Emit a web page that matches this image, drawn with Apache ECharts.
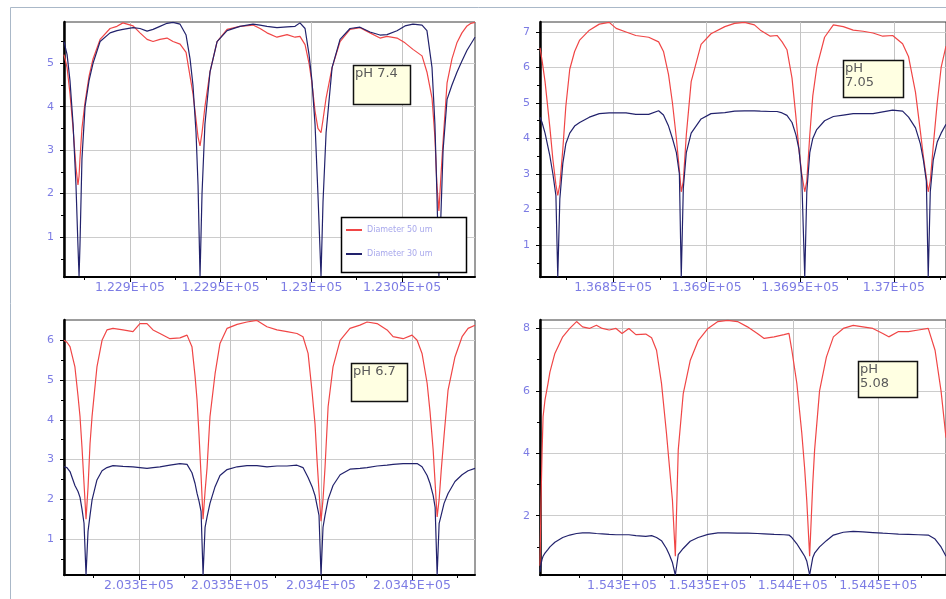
<!DOCTYPE html>
<html><head><meta charset="utf-8">
<script src="https://cdn.jsdelivr.net/npm/echarts@6/dist/echarts.min.js"></script>
<style>html,body{margin:0;padding:0;background:#fff}#c{width:946px;height:599px}</style>
</head><body><div id="c"></div>
<script>
// ---------- Panel 1 (pH 7.4) ----------
const x1 = [122863.6,122865.3,122866.9,122868.6,122870.2,122871.3,122871.9,122872.4,122873.5,122875.2,122877.4,122879.6,122883.5,122889.0,122892.8,122896.1,122901.7,122905.5,122909.4,122912.7,122916.5,122920.4,122923.7,122927.6,122930.9,122933.1,122934.7,122936.4,122937.5,122938.6,122939.7,122941.3,122944.1,122948.0,122953.5,122960.6,122967.8,122971.7,122975.5,122981.0,122986.6,122991.0,122993.7,122996.5,122998.7,123000.3,123002.0,123003.6,123005.3,123006.4,123008.1,123011.4,123015.8,123021.3,123026.8,123032.3,123037.8,123041.7,123047.2,123051.6,123056.0,123061.0,123063.7,123066.5,123068.1,123069.2,123070.3,123071.4,123072.6,123074.8,123077.5,123080.3,123083.0,123085.8,123088.0,123090.2];
const red1 = [5.2,4.9,4.3,3.5,2.6,2.2,2.4,2.8,3.5,4.1,4.7,5.1,5.55,5.8,5.85,5.93,5.86,5.7,5.55,5.5,5.55,5.58,5.5,5.44,5.25,4.7,4.3,3.7,3.3,3.1,3.4,4.0,4.8,5.5,5.78,5.85,5.88,5.8,5.7,5.6,5.66,5.6,5.62,5.43,5.0,4.55,3.9,3.5,3.4,3.7,4.2,4.9,5.5,5.78,5.82,5.7,5.58,5.62,5.58,5.47,5.32,5.17,4.8,4.2,3.3,2.2,1.6,2.4,3.2,4.55,5.1,5.48,5.7,5.86,5.92,5.94];
const blue1 = [5.5,5.2,4.6,3.6,2.2,0.8,0.1,0.8,2.8,4.0,4.6,5.0,5.5,5.7,5.75,5.78,5.82,5.8,5.74,5.78,5.85,5.92,5.94,5.9,5.65,5.1,4.5,3.4,2.2,0.1,2.0,3.6,4.8,5.5,5.75,5.85,5.9,5.88,5.85,5.82,5.84,5.85,5.93,5.8,5.2,4.6,3.6,2.0,0.1,1.8,3.4,4.9,5.55,5.8,5.83,5.72,5.65,5.66,5.75,5.86,5.9,5.88,5.75,4.9,3.6,2.0,0.1,1.5,3.0,4.17,4.5,4.8,5.05,5.3,5.45,5.6];
const xTicks1 = [122900,122950,123000,123050];
const xLabels1 = ['1.229E+05','1.2295E+05','1.23E+05','1.2305E+05'];
const xMinor1 = [122875,122925,122975,123025,123075];
const yTicks1 = [1,2,3,4,5];
const yMinor1 = [0.5,1.5,2.5,3.5,4.5,5.5];

// ---------- Panel 2 (pH 7.05) ----------
const x2 = [136810.9,136812.0,136813.6,136816.2,136817.8,136819.4,136820.4,136821.5,136823.1,136824.7,136826.8,136829.4,136832.1,136837.3,136842.6,136847.9,136851.6,136856.9,136862.1,136869.0,136874.3,136876.9,136879.6,136881.7,136883.8,136885.4,136886.4,136887.5,136889.1,136891.7,136897.0,136902.3,136909.7,136914.9,136920.2,136925.5,136928.7,136934.0,136937.6,136940.3,136942.9,136945.6,136947.7,136949.3,136950.8,136952.4,136953.5,136955.1,136956.7,136958.8,136963.0,136967.7,136973.0,136978.3,136983.6,136988.9,136994.1,136999.4,137004.7,137007.9,137011.6,137014.2,137015.8,137017.4,137018.4,137019.5,137021.1,137023.2,137025.3,137027.9];
const red2 = [6.55,6.2,5.6,4.3,3.4,2.7,2.4,2.7,3.7,4.9,5.95,6.45,6.77,7.05,7.22,7.27,7.1,7.0,6.9,6.85,6.72,6.45,5.8,5.0,4.0,3.1,2.5,2.8,4.1,5.6,6.65,6.95,7.15,7.24,7.27,7.2,7.05,6.88,6.9,6.72,6.5,5.7,4.6,3.7,3.0,2.5,2.8,4.1,5.2,6.0,6.85,7.2,7.15,7.05,7.02,6.97,6.88,6.9,6.67,6.3,5.3,4.2,3.5,2.9,2.5,2.8,3.8,5.0,6.0,6.6];
const blue2 = [4.6,4.45,4.15,3.5,3.0,2.4,0.1,2.3,3.3,3.85,4.15,4.35,4.45,4.6,4.7,4.72,4.72,4.72,4.68,4.68,4.78,4.66,4.35,4.0,3.6,3.0,0.1,2.6,3.6,4.15,4.55,4.7,4.73,4.77,4.78,4.78,4.77,4.76,4.76,4.72,4.65,4.45,4.1,3.7,2.9,0.1,2.5,3.6,4.0,4.25,4.5,4.62,4.66,4.7,4.7,4.7,4.75,4.8,4.77,4.6,4.3,3.85,3.4,2.8,0.1,2.5,3.4,3.9,4.15,4.4];
const xTicks2 = [136850,136900,136950,137000];
const xLabels2 = ['1.3685E+05','1.369E+05','1.3695E+05','1.37E+05'];
const xMinor2 = [136825,136875,136925,136975,137025];
const yTicks2 = [1,2,3,4,5,6,7];
const yMinor2 = [0.5,1.5,2.5,3.5,4.5,5.5,6.5];

// ---------- Panel 3 (pH 6.7) ----------
const x3 = [203258.8,203260.4,203262.1,203264.8,203266.5,203267.6,203268.7,203269.8,203270.9,203272.0,203273.1,203274.2,203276.9,203279.7,203282.4,203285.7,203291.2,203296.7,203300.5,203304.4,203307.7,203311.5,203317.0,203322.5,203326.4,203329.1,203330.8,203331.9,203333.0,203334.1,203335.2,203336.3,203337.4,203339.0,203341.8,203344.5,203348.4,203353.9,203359.3,203364.8,203370.3,203375.8,203381.3,203386.8,203390.1,203392.9,203395.1,203396.7,203397.8,203398.9,203400.0,203401.1,203402.2,203403.9,203406.6,203410.5,203415.9,203421.4,203425.3,203430.8,203436.3,203439.6,203445.1,203450.0,203452.8,203455.5,203458.3,203459.9,203461.6,203462.7,203463.8,203464.9,203466.0,203467.6,203469.8,203473.6,203477.5,203480.8,203484.6];
const red3 = [6.0,5.95,5.84,5.33,4.6,4.08,3.3,2.4,1.5,2.3,3.4,4.08,5.33,6.0,6.26,6.3,6.26,6.22,6.42,6.42,6.26,6.17,6.04,6.06,6.13,5.84,5.1,4.5,3.6,2.6,1.5,2.2,2.8,4.08,5.16,5.92,6.3,6.4,6.46,6.5,6.34,6.26,6.22,6.17,6.09,5.67,4.7,3.9,3.0,2.2,1.45,2.0,2.8,4.33,5.33,6.0,6.3,6.38,6.46,6.42,6.26,6.09,6.04,6.13,6.0,5.67,4.92,4.2,3.25,2.4,1.56,2.0,2.7,3.6,4.75,5.58,6.09,6.3,6.38];
const blue3 = [2.82,2.8,2.7,2.35,2.2,2.05,1.75,1.4,0.1,1.2,1.6,1.98,2.49,2.72,2.8,2.85,2.83,2.82,2.8,2.78,2.8,2.82,2.86,2.9,2.88,2.67,2.4,2.15,1.95,1.7,0.1,1.3,1.56,1.9,2.32,2.6,2.75,2.82,2.85,2.85,2.82,2.84,2.84,2.86,2.8,2.55,2.32,2.1,1.85,1.6,0.1,1.3,1.6,2.0,2.35,2.62,2.76,2.78,2.8,2.84,2.86,2.88,2.9,2.9,2.9,2.82,2.6,2.4,2.1,1.8,0.1,1.4,1.6,1.9,2.15,2.45,2.62,2.72,2.78];
const xTicks3 = [203300,203350,203400,203450];
const xLabels3 = ['2.033E+05','2.0335E+05','2.034E+05','2.0345E+05'];
const xMinor3 = [203275,203325,203375,203425,203475];
const yTicks3 = [1,2,3,4,5,6];
const yMinor3 = [0.5,1.5,2.5,3.5,4.5,5.5];

// ---------- Panel 4 (pH 5.08) ----------
const x4 = [154252.0,154252.6,154253.2,154253.8,154254.9,154256.7,154257.8,154260.7,154265.3,154269.4,154273.4,154276.9,154280.9,154285.0,154288.4,154292.5,154296.5,154300.0,154304.0,154308.1,154313.9,154317.3,154320.2,154323.1,154326.0,154327.7,154329.5,154331.2,154332.9,154335.8,154339.9,154344.5,154350.3,154356.1,154361.8,154367.6,154373.4,154379.2,154383.2,154389.0,154394.8,154397.7,154399.4,154402.3,154405.2,154406.9,154408.1,154409.8,154411.6,154412.7,154415.6,154419.6,154423.7,154429.5,154435.3,154441.0,154446.8,154452.6,154456.1,154461.8,154467.6,154473.4,154479.2,154483.2,154486.7,154489.6];
const red4 = [0.4,2.5,4.0,5.17,5.7,6.24,6.6,7.2,7.73,8.0,8.22,8.05,8.0,8.1,8.0,7.95,8.0,7.84,8.0,7.8,7.82,7.7,7.3,6.24,4.65,3.6,2.5,0.7,4.1,5.9,6.97,7.6,8.0,8.22,8.26,8.22,8.05,7.84,7.68,7.73,7.8,7.84,7.3,6.24,4.65,3.5,2.5,0.7,3.0,4.1,6.0,7.08,7.73,8.0,8.1,8.05,8.0,7.84,7.73,7.9,7.9,7.95,8.0,7.3,6.0,4.5];
const blue4 = [0.2,0.45,0.6,0.7,0.8,0.92,1.0,1.15,1.3,1.38,1.43,1.45,1.45,1.43,1.42,1.4,1.39,1.39,1.39,1.36,1.34,1.36,1.3,1.2,0.95,0.75,0.5,0.1,0.75,0.95,1.18,1.3,1.4,1.45,1.45,1.44,1.44,1.43,1.42,1.4,1.39,1.38,1.3,1.1,0.85,0.7,0.55,0.1,0.65,0.8,1.0,1.2,1.38,1.47,1.5,1.48,1.46,1.44,1.43,1.41,1.4,1.39,1.38,1.25,1.0,0.7];
const xTicks4 = [154300,154350,154400,154450];
const xLabels4 = ['1.543E+05','1.5435E+05','1.544E+05','1.5445E+05'];
const xMinor4 = [154275,154325,154375,154425,154475];
const yTicks4 = [2,4,6,8];
const yMinor4 = [1,3,5,7];

const seriesNames = ['Diameter 50 um', 'Diameter 30 um'];
const phTexts = ['pH 7.4', 'pH\n7.05', 'pH 6.7', 'pH\n5.08'];

const RED = '#f04646', BLUE = '#22226c';
const LABEL_COLOR = '#7c7ce4';

const panels = [
  {x:x1, red:red1, blue:blue1, xt:xTicks1, xl:xLabels1, xm:xMinor1, yt:yTicks1, ym:yMinor1,
   grid:{left:64, top:22, width:411, height:255}, xr:[122863.6,123090.2], yr:[0.08,5.95],
   box:{x:353, y:65, w:57, h:39}},
  {x:x2, red:red2, blue:blue2, xt:xTicks2, xl:xLabels2, xm:xMinor2, yt:yTicks2, ym:yMinor2,
   grid:{left:540, top:22, width:411, height:255}, xr:[136810.9,137027.9], yr:[0.1,7.28],
   box:{x:843, y:60, w:60, h:37}},
  {x:x3, red:red3, blue:blue3, xt:xTicks3, xl:xLabels3, xm:xMinor3, yt:yTicks3, ym:yMinor3,
   grid:{left:64, top:320, width:411, height:255}, xr:[203258.8,203484.6], yr:[0.1,6.51],
   box:{x:351, y:363, w:56, h:38}},
  {x:x4, red:red4, blue:blue4, xt:xTicks4, xl:xLabels4, xm:xMinor4, yt:yTicks4, ym:yMinor4,
   grid:{left:540, top:320, width:411, height:255}, xr:[154252.0,154489.6], yr:[0.1,8.27],
   box:{x:858, y:361, w:59, h:36}}
];

const grids = [], xAxes = [], yAxes = [], series = [], graphics = [];
panels.forEach((p, i) => {
  grids.push(Object.assign({show:true, borderColor:'#3a3a3a', borderWidth:1, backgroundColor:'transparent', containLabel:false}, p.grid));
  const xt = p.xt, xl = p.xl;
  xAxes.push({
    gridIndex:i, type:'value', position:'bottom', min:p.xr[0], max:p.xr[1],
    axisLine:{show:true, onZero:false, lineStyle:{color:'#000', width:2}},
    axisTick:{show:true, customValues:xt, length:5, lineStyle:{color:'#000', width:1}},
    axisLabel:{customValues:xt, margin:4, color:LABEL_COLOR, fontSize:12.5, fontFamily:'DejaVu Sans',
      formatter:(v)=>{const k = xt.findIndex(t=>Math.abs(t-v)<1e-6); return k>=0 ? xl[k] : '';}},
    splitLine:{show:true, lineStyle:{color:'#c4c4c4', width:1}}
  });
  xAxes.push({
    gridIndex:i, type:'value', position:'bottom', min:p.xr[0], max:p.xr[1],
    axisLine:{show:false, onZero:false},
    axisTick:{show:true, customValues:p.xm, length:3, lineStyle:{color:'#000', width:1}},
    axisLabel:{show:false}, splitLine:{show:false}
  });
  yAxes.push({
    gridIndex:i, type:'value', position:'left', min:p.yr[0], max:p.yr[1],
    axisLine:{show:true, onZero:false, lineStyle:{color:'#000', width:2.5}},
    axisTick:{show:true, customValues:p.yt, length:4, lineStyle:{color:'#000', width:1}},
    axisLabel:{customValues:p.yt, margin:10, color:LABEL_COLOR, fontSize:11, fontFamily:'DejaVu Sans'},
    splitLine:{show:true, lineStyle:{color:'#cccccc', width:1}}
  });
  yAxes.push({
    gridIndex:i, type:'value', position:'left', min:p.yr[0], max:p.yr[1],
    axisLine:{show:false, onZero:false},
    axisTick:{show:true, customValues:p.ym, length:3, lineStyle:{color:'#000', width:1}},
    axisLabel:{show:false}, splitLine:{show:false}
  });
  series.push({
    name:seriesNames[0], type:'line', xAxisIndex:2*i, yAxisIndex:2*i, showSymbol:false, symbol:'none',
    color:RED, lineStyle:{color:RED, width:1.2}, z:2,
    data:p.x.map((x,k)=>[x, p.red[k]])
  });
  series.push({
    name:seriesNames[1], type:'line', xAxisIndex:2*i, yAxisIndex:2*i, showSymbol:false, symbol:'none',
    color:BLUE, lineStyle:{color:BLUE, width:1.2}, z:3,
    data:p.x.map((x,k)=>[x, p.blue[k]])
  });
  const b = p.box;
  graphics.push({type:'rect', z:20, shape:{x:b.x+0.5, y:b.y+0.5, width:b.w, height:b.h},
    style:{fill:'#ffffe2', stroke:'#111', lineWidth:1.5}});
  graphics.push({type:'text', z:21, x:b.x+2, y:b.y+2,
    style:{text:phTexts[i], fill:'#5a5a5a', font:'13px "DejaVu Sans"', lineHeight:14}});
});

// legend box (panel 1)
graphics.push({type:'rect', z:20, shape:{x:341.5, y:217.5, width:125, height:55},
  style:{fill:'#ffffff', stroke:'#000', lineWidth:1.5}});
// outer frame
graphics.push({type:'rect', z:30, silent:true, shape:{x:10.5, y:7.5, width:950, height:600},
  style:{fill:'none', stroke:'#aab8c8', lineWidth:1}});

const chart = echarts.init(document.getElementById('c'), null, {renderer:'canvas'});
chart.setOption({
  animation:false,
  backgroundColor:'#ffffff',
  grid:grids, xAxis:xAxes, yAxis:yAxes, series:series,
  legend:{data:seriesNames, orient:'vertical', left:346, top:226, padding:0, itemGap:16,
    itemWidth:16, itemHeight:2, icon:'rect', z:25,
    textStyle:{fontSize:8, color:'#a8a8ec', fontFamily:'DejaVu Sans'}},
  graphic:graphics
});
</script></body></html>
